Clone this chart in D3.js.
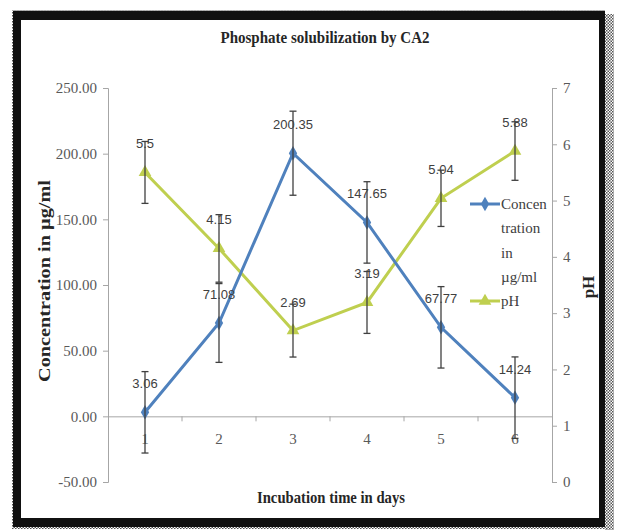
<!DOCTYPE html>
<html>
<head>
<meta charset="utf-8">
<script src="https://cdn.jsdelivr.net/npm/d3@7"></script>
<style>
  html, body { margin: 0; padding: 0; background: #fff; }
  svg { display: block; }
</style>
</head>
<body>
<svg id="chart" width="624" height="530"></svg>
<script>
// ---- data ----
const days = ["1", "2", "3", "4", "5", "6"];
const concentration = [3.06, 71.08, 200.35, 147.65, 67.77, 14.24];
const concentrationErr = [31, 30, 32, 31, 31, 31];
const pH = [5.5, 4.15, 2.69, 3.19, 5.04, 5.88];
const pHErr = [0.55, 0.6, 0.47, 0.55, 0.5, 0.52];
const leftTicks = [-50, 0, 50, 100, 150, 200, 250];
const rightTicks = [0, 1, 2, 3, 4, 5, 6, 7];
const concLabels = ["3.06", "71.08", "200.35", "147.65", "67.77", "14.24"];
const pHLabels = ["5.5", "4.15", "2.69", "3.19", "5.04", "5.88"];
const legendConcLines = ["Concen", "tration", "in", "µg/ml"];

const blue = "#4F81BD";
const green = "#BFCF4F";
const serif = "'Liberation Serif', 'Times New Roman', serif";
const sans = "'Liberation Sans', Arial, sans-serif";

const svg = d3.select("#chart");

// ---- frame ----
const defs = svg.append("defs");
const pat = defs.append("pattern").attr("id", "chk").attr("width", 3).attr("height", 3)
  .attr("patternUnits", "userSpaceOnUse");
pat.append("rect").attr("width", 3).attr("height", 3).attr("fill", "#fff");
pat.append("rect").attr("width", 1.5).attr("height", 1.5).attr("fill", "#555");
pat.append("rect").attr("x", 1.5).attr("y", 1.5).attr("width", 1.5).attr("height", 1.5).attr("fill", "#555");

svg.append("rect").attr("x", 605).attr("y", 14).attr("width", 9).attr("height", 516).attr("fill", "url(#chk)");
svg.append("rect").attr("x", 12).attr("y", 10).attr("width", 593).attr("height", 519).attr("fill", "url(#chk)");
svg.append("rect").attr("x", 13).attr("y", 11).attr("width", 592).attr("height", 516).attr("fill", "#111");
svg.append("rect").attr("x", 21).attr("y", 20).attr("width", 578).attr("height", 498).attr("fill", "#fff");

// ---- scales ----
const x = d3.scaleBand().domain(days).range([108, 552]);
const yL = d3.scaleLinear().domain([-50, 250]).range([482, 88]);
const yR = d3.scaleLinear().domain([0, 7]).range([482, 88]);
const cx = d => x(d) + x.bandwidth() / 2;

// ---- axes ----
const axisColor = "#A6A6A6";
const tickText = "#595959";

const gL = svg.append("g").attr("transform", "translate(108,0)")
  .call(d3.axisLeft(yL).tickValues(leftTicks).tickFormat(d => d.toFixed(2)).tickSize(5).tickSizeOuter(5).tickPadding(6));
const gR = svg.append("g").attr("transform", "translate(552,0)")
  .call(d3.axisRight(yR).tickValues(rightTicks).tickFormat(d => String(d)).tickSize(5).tickSizeOuter(5).tickPadding(6));
[gL, gR].forEach(g => {
  g.selectAll("path, line").attr("stroke", axisColor).attr("stroke-width", 1);
  g.selectAll("text").attr("fill", tickText).attr("font-family", serif).attr("font-size", 15);
});

// category axis on zero line
const gX = svg.append("g").attr("transform", `translate(0,${yL(0)})`)
  .call(d3.axisBottom(x).tickSize(0).tickPadding(17));
gX.select("path").attr("stroke", axisColor).attr("stroke-width", 1);
gX.selectAll("text").attr("fill", tickText).attr("font-family", serif).attr("font-size", 15);
gX.selectAll(".bnd").data(days.slice(1)).enter().append("line")
  .attr("x1", d => x(d)).attr("x2", d => x(d)).attr("y1", 0).attr("y2", 5)
  .attr("stroke", axisColor);

// ---- lines ----
const concPts = days.map((d, i) => [cx(d), yL(concentration[i])]);
const pHPts = days.map((d, i) => [cx(d), yR(pH[i])]);
svg.append("path").attr("d", d3.line()(pHPts)).attr("fill", "none").attr("stroke", green).attr("stroke-width", 3);
svg.append("path").attr("d", d3.line()(concPts)).attr("fill", "none").attr("stroke", blue).attr("stroke-width", 3);

const diamond = d3.symbol().type(d3.symbolDiamond).size(60);
const tri = d3.symbol().type(d3.symbolTriangle).size(70);

svg.selectAll(".pm").data(pHPts).enter().append("path")
  .attr("d", tri).attr("transform", p => `translate(${p[0]},${p[1]})`).attr("fill", green);
svg.selectAll(".cm").data(concPts).enter().append("path")
  .attr("d", diamond).attr("transform", p => `translate(${p[0]},${p[1]})`).attr("fill", blue);

// ---- data labels ----
svg.selectAll(".cl").data(days).enter().append("text")
  .attr("x", d => cx(d)).attr("y", (d, i) => yL(concentration[i]) - 24)
  .attr("text-anchor", "middle").attr("font-family", sans).attr("font-size", 13).attr("fill", "#404040")
  .text((d, i) => concLabels[i]);
svg.selectAll(".pl").data(days).enter().append("text")
  .attr("x", d => cx(d)).attr("y", (d, i) => yR(pH[i]) - 24)
  .attr("text-anchor", "middle").attr("font-family", sans).attr("font-size", 13).attr("fill", "#404040")
  .text((d, i) => pHLabels[i]);

// ---- error bars ----
function errBars(vals, errs, scale) {
  const g = svg.append("g").attr("stroke", "#404040").attr("stroke-width", 1.3);
  days.forEach((d, i) => {
    const xx = cx(d), top = scale(vals[i] + errs[i]), bot = scale(vals[i] - errs[i]);
    g.append("line").attr("x1", xx).attr("x2", xx).attr("y1", top).attr("y2", bot);
    g.append("line").attr("x1", xx - 3.5).attr("x2", xx + 3.5).attr("y1", top).attr("y2", top);
    g.append("line").attr("x1", xx - 3.5).attr("x2", xx + 3.5).attr("y1", bot).attr("y2", bot);
  });
}
errBars(pH, pHErr, yR);
errBars(concentration, concentrationErr, yL);

// ---- legend ----
const lg = svg.append("g");
lg.append("line").attr("x1", 470).attr("x2", 500).attr("y1", 204).attr("y2", 204).attr("stroke", blue).attr("stroke-width", 3);
lg.append("path").attr("d", diamond).attr("transform", "translate(485,204)").attr("fill", blue);
legendConcLines.forEach((t, i) => {
  lg.append("text").attr("x", 501).attr("y", 209 + i * 24.3).attr("font-family", serif)
    .attr("font-size", 15).attr("fill", "#404040").text(t);
});
lg.append("line").attr("x1", 470).attr("x2", 500).attr("y1", 301).attr("y2", 301).attr("stroke", green).attr("stroke-width", 3);
lg.append("path").attr("d", tri).attr("transform", "translate(485,301)").attr("fill", green);
lg.append("text").attr("x", 501).attr("y", 306).attr("font-family", serif)
  .attr("font-size", 15).attr("fill", "#404040").text("pH");

// ---- titles ----
const titleColor = "#262626";
svg.append("text").attr("x", 325).attr("y", 43).attr("text-anchor", "middle")
  .attr("font-family", serif).attr("font-weight", "bold").attr("font-size", 17).attr("fill", titleColor)
  .attr("textLength", 209).attr("lengthAdjust", "spacingAndGlyphs")
  .text("Phosphate  solubilization by CA2");
svg.append("text").attr("x", 331).attr("y", 503).attr("text-anchor", "middle")
  .attr("font-family", serif).attr("font-weight", "bold").attr("font-size", 17).attr("fill", titleColor)
  .attr("textLength", 148).attr("lengthAdjust", "spacingAndGlyphs")
  .text("Incubation  time in days");
svg.append("text").attr("transform", "translate(50,281) rotate(-90)").attr("text-anchor", "middle")
  .attr("font-family", serif).attr("font-weight", "bold").attr("font-size", 17).attr("fill", titleColor)
  .attr("textLength", 202).attr("lengthAdjust", "spacingAndGlyphs")
  .text("Concentration  in µg/ml");
svg.append("text").attr("transform", "translate(594,287) rotate(-90)").attr("text-anchor", "middle")
  .attr("font-family", serif).attr("font-weight", "bold").attr("font-size", 17).attr("fill", titleColor)
  .text("pH");
</script>
</body>
</html>
